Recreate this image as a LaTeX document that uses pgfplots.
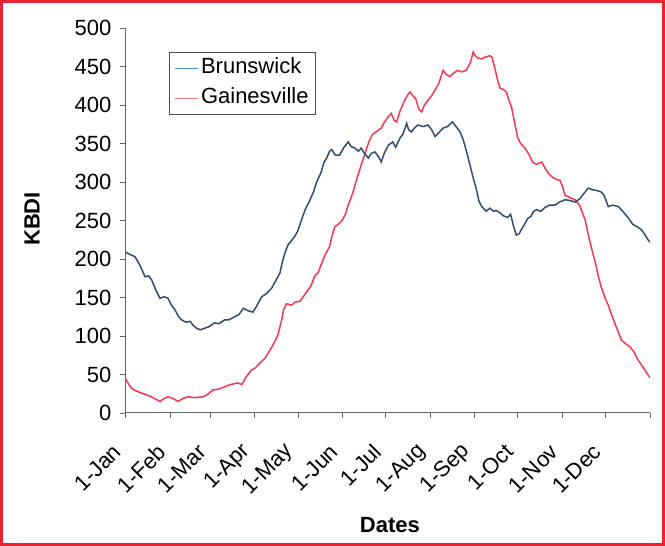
\documentclass[border=0pt]{standalone}
\usepackage{fontspec}
\setmainfont{Liberation Sans}
\usepackage{pgfplots}
\pgfplotsset{compat=1.18}
\definecolor{bline}{RGB}{52,74,116}
\definecolor{bleg}{RGB}{70,150,225}
\definecolor{rline}{RGB}{245,55,85}
\definecolor{rleg}{RGB}{245,120,135}
\definecolor{frame}{RGB}{232,36,48}
\begin{document}
\begin{tikzpicture}[x=1pt,y=1pt]
\useasboundingbox (0,0) rectangle (665,546);
\draw[frame, line width=2.5pt] (1.5,1.5) rectangle (663.5,544.5);
\begin{axis}[
 at={(125.5pt,133pt)}, anchor=south west,
 scale only axis, width=524.5pt, height=385pt,
 xmin=0, xmax=365, ymin=0, ymax=500,
 axis lines=left, axis line style={-, gray!80!black, line width=1pt},
 xtick={0,31,59,90,120,151,181,212,243,273,304,334,365},
 xticklabels={1-Jan,1-Feb,1-Mar,1-Apr,1-May,1-Jun,1-Jul,1-Aug,1-Sep,1-Oct,1-Nov,1-Dec,},
 ytick={0,50,...,500},
 tick style={gray!80!black, line width=0.8pt},
 major tick length=5pt,
 tick align=outside,
 ticklabel style={font=\fontsize{22}{25}\selectfont},
 /pgf/number format/assume math mode=true,
 xticklabel style={xshift=-8pt, yshift=-30pt, rotate=45, anchor=east, inner sep=0pt},
 yticklabel style={anchor=east, inner sep=0pt, xshift=-9pt},
 xlabel={Dates}, ylabel={KBDI},
 label style={font=\fontsize{22}{26}\selectfont\bfseries},
 xlabel style={at={(axis description cs:0.504,-0.291)}, anchor=center},
 ylabel style={at={(axis description cs:-0.178,0.504)}, anchor=center},
 legend style={at={(axis description cs:0.083,0.938)}, anchor=north west,
   draw=gray!60!black, line width=1pt, font=\fontsize{22}{26}\selectfont,
   inner xsep=5pt, inner ysep=3.5pt, row sep=5pt,
   nodes={inner sep=2pt, text height=16pt, text depth=5pt}},
 legend cell align=left,
 legend image code/.code={\draw[#1, line width=1.5pt] (0pt,0pt) -- (23pt,0pt);},
]
\addlegendimage{bleg}
\addlegendentry{Brunswick}
\addlegendimage{rleg}
\addlegendentry{Gainesville}
\addplot[rline, line width=1.5pt, forget plot] coordinates {
(0,45)(2,38)(4.3,32)(7,29)(11,26)(14,24)(18,21)(21,18)(24,15)(27,19)(29.6,21)(33,19)
(36.5,15)(40,19)(43.5,21)(48,20)(54,21)(57,24)(61,30)(65,31)(69,34)(73,37)(78,39)(81,37)
(84,47)(87.8,56)(90,58)(93.6,65)(97,71)(100,80)(102.6,88)(106,101)(108.7,121)(110,134)
(112,142)(115.6,140)(118,144)(121.4,145)(124,152)(126,157)(129,165)(132,179)(134,182)
(136,192)(138.8,205)(142,216)(144,232)(145.7,242)(148,245)(151,251)(153,258)(155,270)
(158,285)(160,298)(162,310)(164,322)(166,333)(168,345)(170,355)(172,362)(175,366)
(178,370)(180,377)(183,385)(185,389)(187,380)(188.7,378)(191,392)(194,405)(196,412)
(198,417)(200,412)(202,408)(204,395)(206,391)(208,400)(210.5,406)(213,412)(215,418)
(218,428)(221,445)(223,440)(225.8,437)(228,441)(231,445)(234,443)(237,445)(240,455)
(242,469)(243,465)(245,461)(248,460)(250,462)(253.6,464)(255,462)(257,448)(259,432)
(260.6,422)(263,420)(265,417)(267,405)(268.8,396)(271,375)(273,357)(275,350)(278,344)
(281,335)(283.6,325)(286,323)(289.6,326)(292,318)(294,312)(296.6,307)(299,304)
(302.4,302)(304,295)(305.8,283)(309,280)(312.8,277)(316,270)(319.8,251)(322,232)
(324,216)(327,195)(329,178)(331,164)(334,148)(336,140)(338,129)(341,114)(343,105)
(345,95)(348,90)(351,86)(354,79)(356.6,69)(360,60)(362.7,52)(365,46)
};
\addplot[bline, line width=1.5pt, forget plot] coordinates {
(0,209)(3,206)(6.6,203)(10,192)(13.6,177)(16,178)(18.2,173)(21,160)(24,149)(27,151)
(29.6,149)(32,140)(34.4,134)(37,125)(39,121)(42,118)(45,119)(47,114)(49.5,110)(52,108)
(55,110)(58,112)(62,117)(65,116)(69,121)(72,121)(76,125)(79,128)(82,136)(85,133)
(88.7,131)(91,138)(94.8,151)(98,155)(101.7,162)(104,170)(107.5,182)(109,195)(111,208)
(113,218)(115.6,224)(118,230)(120,237)(122,248)(125,264)(128,275)(131,288)(133,300)
(136,312)(138,325)(140,331)(142,340)(143.5,342)(146,335)(149,335)(152,345)(155,352)
(157,346)(159.7,344)(162,340)(164,344)(166,338)(169,331)(171,337)(173.6,339)(176,333)
(178,326)(180,337)(183,348)(186,352)(188,345)(191,357)(193,362)(195.7,376)(197,368)
(199,365)(201,370)(203.5,374)(207,372)(210.5,374)(213,368)(215.4,359)(218,364)(221,370)
(224,372)(227.6,378)(230,372)(232.8,365)(235,355)(237.4,339)(240,320)(242,305)(244,292)
(246,275)(248,268)(251,262)(253.6,266)(256,262)(258,263)(260.6,260)(263,256)(266,254)
(268,258)(270,243)(272,231)(274,233)(276,240)(278,246)(280,253)(282,255)(284,262)
(286,264)(289,262)(292,267)(295,270)(299,270)(302,274)(306,277)(309,276)(313,274)
(316,278)(319,285)(322,292)(325,290)(328,289)(331,287)(333,283)(336,268)(339,270)
(343,268)(346,262)(350,253)(353,245)(356,242)(359,238)(361,233)(363.6,225)(365,222)
};
\end{axis}
\end{tikzpicture}
\end{document}
